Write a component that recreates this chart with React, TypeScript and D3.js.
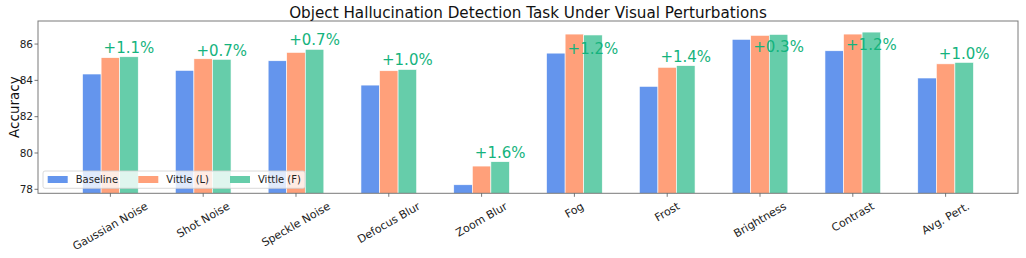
import React from "react";
import * as d3 from "d3";

const categories = [
  "Gaussian Noise", "Shot Noise", "Speckle Noise", "Defocus Blur", "Zoom Blur",
  "Fog", "Frost", "Brightness", "Contrast", "Avg. Pert.",
];
const baseline = [84.35, 84.55, 85.08, 83.74, 78.25, 85.50, 83.67, 86.26, 85.63, 84.13];
const vittleL = [85.25, 85.19, 85.54, 84.53, 79.28, 86.55, 84.72, 86.48, 86.55, 84.91];
const vittleF = [85.30, 85.16, 85.71, 84.60, 79.52, 86.50, 84.81, 86.53, 86.66, 84.99];
const gainLabels = ["+1.1%", "+0.7%", "+0.7%", "+1.0%", "+1.6%", "+1.2%", "+1.4%", "+0.3%", "+1.2%", "+1.0%"];
const gainLabelY = [85.49, 85.34, 85.94, 84.84, 79.70, 85.44, 85.03, 85.55, 85.66, 85.16];
const yTicks = [78, 80, 82, 84, 86];
const seriesNames = ["Baseline", "Vittle (L)", "Vittle (F)"];
const seriesColors = ["#6495ED", "#FFA07A", "#66CDAA"];
const labelColor = "#14b37d";

const W = 1026;
const H = 258;
const FONT = "DejaVu Sans, sans-serif";

let ctx: CanvasRenderingContext2D | null = null;
function measure(text: string, size: number) {
  if (!ctx) ctx = document.createElement("canvas").getContext("2d");
  if (!ctx) return text.length * size * 0.6;
  ctx.font = `${size}px "DejaVu Sans"`;
  return ctx.measureText(text).width;
}

export default function App() {
  const left = 38, right = 1018, top = 21, bottom = 193.3;
  const n = categories.length;
  const barW = 0.2;
  const x = d3.scaleLinear().domain([-0.3 - 0.048 * 10, n - 1 + 0.3 + 0.048 * 10]).range([left, right]);
  const y = d3.scaleLinear().domain([77.78, 87.27]).range([bottom, top]);
  const series = [baseline, vittleL, vittleF];
  const offsets = [-barW, 0, barW];
  const px = (u: number) => x(u) - x(0);

  const xtFs = 11;
  const lineH = xtFs * 1.16;
  const rot = Math.PI / 6;

  // legend
  const lgX = 43, lgY = 171, lgW = 262, lgH = 17.3;
  const entryX = [47.7, 138.3, 230];

  return (
    <svg width={W} height={H} style={{ position: "absolute", left: 0, top: 0, background: "#fff" }} fontFamily={FONT}>
      <rect x={0} y={0} width={W} height={H} fill="#fff" />
      {series.map((vals, s) =>
        vals.map((v, i) => (
          <rect
            key={`b${s}-${i}`}
            x={x(i + offsets[s] - barW / 2)}
            y={y(v)}
            width={px(barW)}
            height={bottom - y(v)}
            fill={seriesColors[s]}
            stroke="#ffffff"
            strokeWidth={0.6}
          />
        ))
      )}
      {gainLabels.map((t, i) => (
        <text key={`g${i}`} x={x(i + barW)} y={y(gainLabelY[i])} fontSize={15} fill={labelColor} textAnchor="middle">
          {t}
        </text>
      ))}
      {/* axes frame */}
      <rect x={left} y={top} width={right - left} height={bottom - top} fill="none" stroke="#7a7a7a" strokeWidth={1} />
      {/* y ticks */}
      {yTicks.map((t) => (
        <g key={`y${t}`}>
          <line x1={left - 3.5} x2={left} y1={y(t)} y2={y(t)} stroke="#555" strokeWidth={0.8} />
          <text x={left - 5} y={y(t)} dy="0.35em" fontSize={10.5} fill="#222" textAnchor="end">
            {t}
          </text>
        </g>
      ))}
      {/* x ticks */}
      {categories.map((c, i) => {
        const w = measure(c, xtFs);
        const bh = w * Math.sin(rot) + lineH * Math.cos(rot);
        const ay = bottom + 6.5 + bh / 2;
        return (
          <g key={`x${i}`}>
            <line x1={x(i)} x2={x(i)} y1={bottom} y2={bottom + 3.5} stroke="#555" strokeWidth={0.8} />
            <text
              transform={`translate(${x(i)},${ay}) rotate(-30)`}
              fontSize={xtFs}
              fill="#222"
              textAnchor="middle"
              dy="0.32em"
            >
              {c}
            </text>
          </g>
        );
      })}
      {/* y label */}
      <text transform={`translate(19,${(top + bottom) / 2}) rotate(-90)`} fontSize={13.5} fill="#111" textAnchor="middle">
        Accuracy
      </text>
      {/* title */}
      <text x={(left + right) / 2} y={18.3} fontSize={15.2} fill="#111" textAnchor="middle">
        Object Hallucination Detection Task Under Visual Perturbations
      </text>
      {/* legend */}
      <rect x={lgX} y={lgY} width={lgW} height={lgH} rx={2} fill="#fff" fillOpacity={0.8} stroke="#d0d0d0" strokeWidth={0.8} />
      {seriesNames.map((s, k) => (
        <g key={`l${k}`}>
          <rect x={entryX[k]} y={lgY + 5} width={20} height={7} fill={seriesColors[k]} />
          <text x={entryX[k] + 28} y={lgY + lgH / 2} dy="0.35em" fontSize={10} fill="#222">
            {s}
          </text>
        </g>
      ))}
    </svg>
  );
}
